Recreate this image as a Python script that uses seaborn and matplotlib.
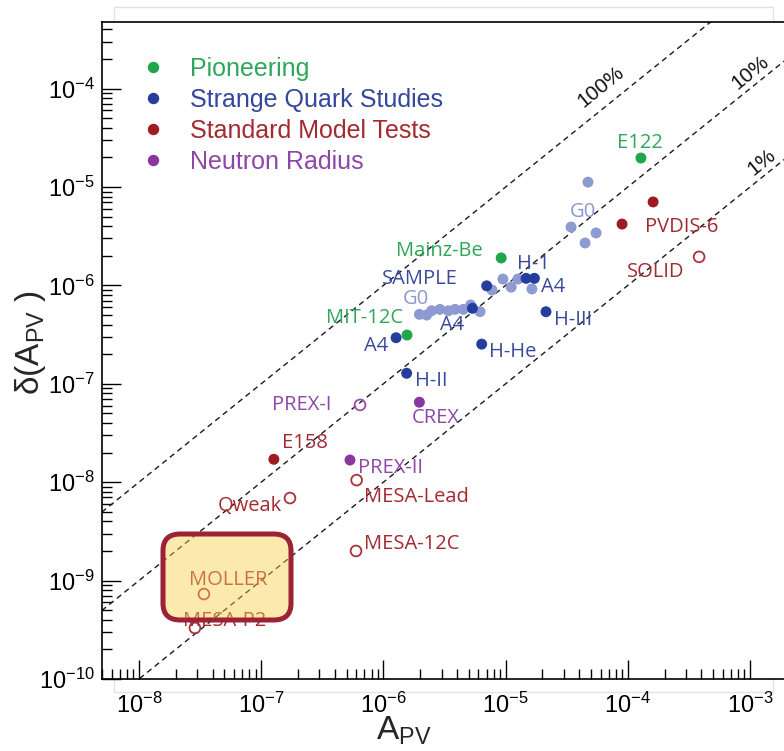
import numpy as np
import pandas as pd
import matplotlib
matplotlib.use("Agg")
import matplotlib.pyplot as plt
import seaborn as sns
from matplotlib.patches import FancyBboxPatch, Rectangle
from matplotlib.lines import Line2D
from matplotlib.colors import to_rgba
from matplotlib.ticker import LogLocator, NullFormatter, FixedLocator, LogFormatterSciNotation

# ---------------- data ----------------
categories = ["Pioneering", "Strange Quark Studies", "Standard Model Tests", "Neutron Radius"]

pioneer_A = [1.28e-4, 9.2e-6, 1.56e-6]
pioneer_dA = [1.97e-5, 1.9e-6, 3.13e-7]

strange_A = [7.0e-6, 1.47e-5, 1.72e-5, 2.14e-5, 6.37e-6, 1.27e-6, 1.55e-6, 5.35e-6]
strange_dA = [9.9e-7, 1.18e-6, 1.18e-6, 5.4e-7, 2.53e-7, 2.94e-7, 1.28e-7, 5.85e-7]

pale_A = [4.72e-5, 3.43e-5, 5.5e-5, 4.47e-5, 9.5e-6, 1.11e-5, 1.26e-5, 1.64e-5, 7.74e-6,
          1.97e-6, 2.26e-6, 2.48e-6, 2.9e-6, 3.4e-6, 3.86e-6, 4.51e-6, 5.18e-6, 6.18e-6]
pale_dA = [1.12e-5, 3.92e-6, 3.41e-6, 2.7e-6, 1.16e-6, 9.6e-7, 1.16e-6, 9.2e-7, 8.97e-7,
           5.08e-7, 5.0e-7, 5.53e-7, 5.71e-7, 5.53e-7, 5.71e-7, 5.71e-7, 6.32e-7, 5.41e-7]

sm_A = [1.27e-7, 8.97e-5, 1.61e-4]
sm_dA = [1.71e-8, 4.2e-6, 7.05e-6]

sm_open_A = [3.83e-4, 1.72e-7, 6.04e-7, 5.97e-7, 3.4e-8, 2.87e-8]
sm_open_dA = [1.95e-6, 6.9e-9, 1.05e-8, 2.0e-9, 7.3e-10, 3.3e-10]

nr_A = [1.97e-6, 5.33e-7]
nr_dA = [6.5e-8, 1.68e-8]

nr_open_A = [6.44e-7]
nr_open_dA = [6.1e-8]

x_ticks = [1e-8, 1e-7, 1e-6, 1e-5, 1e-4, 1e-3]
y_ticks = [1e-10, 1e-9, 1e-8, 1e-7, 1e-6, 1e-5, 1e-4]

# precision lines (fraction of A_PV)
pct_fracs = [1.0, 0.1, 0.01]
pct_texts = ["100%", "10%", "1%"]
pct_label_A = [6.04e-5, 1.0e-3, 1.25e-3]

# labels: (text, group, index in group, dx px, dy px)
labels = [
    ("E122", "pioneer", 0, -1, 15),
    ("Mainz-Be", "pioneer", 1, -62, 7),
    ("MIT-12C", "pioneer", 2, -42, 17),
    ("SAMPLE", "strange", 0, -67, 7),
    ("H-1", "strange", 1, 7, 14),
    ("H-III", "strange", 3, 27, -8),
    ("H-He", "strange", 4, 31, -8),
    ("A4", "strange", 5, -20, -8),
    ("H-II", "strange", 6, 25, -8),
    ("A4", "strange", 7, -20, -17),
    ("A4", "pale_label", 7, 21, 2),
    ("G0", "pale", 9, -4, 15),
    ("G0", "pale", 1, 12, 15),
    ("E158", "sm", 0, 31, 16),
    ("PVDIS-6", "sm", 1, 60, -3),
    ("SOLID", "sm_open", 0, -43, -15),
    ("Qweak", "sm_open", 1, -40, -8),
    ("MESA-Lead", "sm_open", 2, 60, -17),
    ("MESA-12C", "sm_open", 3, 56, 7),
    ("MOLLER", "sm_open", 4, 24, 14),
    ("MESA-P2", "sm_open", 5, 30, 7),
    ("CREX", "nr", 0, 16, -16),
    ("PREX-II", "nr", 1, 40, -8),
    ("PREX-I", "nr_open", 0, -58, 0),
]

# ---------------- styles ----------------
point_colors = {
    "pale": "#8e9ad2",
    "pioneer": "#1ea64b",
    "strange": "#253d9c",
    "sm": "#9d1b22",
    "nr": "#8a35a0",
    "sm_open": "#a8343a",
    "nr_open": "#9a4cb0",
}
label_colors = {
    "pale": "#8d97cb",
    "pale_label": "#3a4a9c",
    "pioneer": "#2ea75a",
    "strange": "#3a4a9c",
    "sm": "#a42a30",
    "sm_open": "#a42a30",
    "nr": "#8d47a8",
    "nr_open": "#8d47a8",
}
legend_colors = ["#1ea64b", "#253d9c", "#9d1b22", "#8a35a0"]
legend_text_colors = ["#2ea75a", "#34479e", "#a42a30", "#8d47a8"]

sns.set_theme(style="white")
plt.rcParams["font.family"] = ["Liberation Sans", "DejaVu Sans"]
plt.rcParams["mathtext.fontset"] = "custom"
plt.rcParams["mathtext.rm"] = "Liberation Sans"
plt.rcParams["mathtext.it"] = "Liberation Sans:italic"
plt.rcParams["mathtext.bf"] = "Liberation Sans:bold"

groups = {
    "pale": (pale_A, pale_dA, False),
    "pioneer": (pioneer_A, pioneer_dA, False),
    "strange": (strange_A, strange_dA, False),
    "sm": (sm_A, sm_dA, False),
    "nr": (nr_A, nr_dA, False),
    "sm_open": (sm_open_A, sm_open_dA, True),
    "nr_open": (nr_open_A, nr_open_dA, True),
}
rows = []
for g, (a, d, hollow) in groups.items():
    for x, y in zip(a, d):
        rows.append({"A": x, "dA": y, "group": g, "hollow": hollow})
df = pd.DataFrame(rows)

W, H = 784, 751
fig = plt.figure(figsize=(W / 100, H / 100), dpi=100)
fig.patch.set_facecolor("white")

# faint frame behind the plot
fig.add_artist(Rectangle((114 / W, 1 - 692 / H), (773 - 114) / W, (692 - 7) / H,
                         transform=fig.transFigure, fill=False, edgecolor="#e3e3e3",
                         lw=1.0, zorder=0))

ax = fig.add_axes([101.7 / W, (H - 679) / H, (790 - 101.7) / W, (679 - 21.7) / H])
ax.set_facecolor("white")
ax.set_xscale("log")
ax.set_yscale("log")
xmin, xmax = 10 ** -8.305, 10 ** -2.673
ymin, ymax = 1e-10, 10 ** -3.32

# precision lines
xx = np.geomspace(xmin, xmax, 50)
for f in pct_fracs:
    ax.plot(xx, f * xx, color="#1a1a1a", lw=1.0, ls=(0, (4, 3)), zorder=1)
for f, t, xa, off in zip(pct_fracs, pct_texts, pct_label_A, [23, 16, 15]):
    ax.annotate(t, (xa, f * xa), xytext=(0, off), textcoords="offset pixels",
                ha="center", va="center", rotation=39, rotation_mode="anchor",
                fontsize=15, color="#111111", zorder=4)

# filled points
filled = df[~df["hollow"]]
sns.scatterplot(data=filled, x="A", y="dA", hue="group", palette=point_colors,
                hue_order=["pale", "pioneer", "strange", "sm", "nr"],
                s=62, linewidth=0, legend=False, ax=ax, zorder=3)
# hollow points
hollow = df[df["hollow"]]
sns.scatterplot(data=hollow, x="A", y="dA", hue="group", palette=point_colors,
                hue_order=["sm_open", "nr_open"], s=60, linewidth=1.3,
                legend=False, ax=ax, zorder=3)
coll = ax.collections[-1]
coll.set_edgecolors(coll.get_facecolors())
coll.set_facecolors("none")

# point labels
for text, grp, idx, dx, dy in labels:
    src = "pale" if grp == "pale_label" else grp
    a, d, _ = groups[src]
    ax.annotate(text, (a[idx], d[idx]), xytext=(dx, dy), textcoords="offset pixels",
                ha="center", va="center", color=label_colors[grp], fontsize=14.5,
                family=["Open Sans", "DejaVu Sans"], zorder=4)

# MOLLER highlight box
fig.add_artist(FancyBboxPatch((163 / W, 1 - 620 / H), 128 / W, 86 / H,
                              boxstyle="round,pad=0,rounding_size=0.022",
                              transform=fig.transFigure,
                              facecolor=to_rgba("#f7cf4d", 0.45),
                              edgecolor="#9b2335", lw=3.6, zorder=5))

# ticks
ax.xaxis.set_major_locator(FixedLocator(x_ticks))
ax.xaxis.set_major_formatter(LogFormatterSciNotation())
ax.xaxis.set_minor_locator(LogLocator(base=10, subs=np.arange(2, 10), numticks=20))
ax.xaxis.set_minor_formatter(NullFormatter())
ax.yaxis.set_major_locator(FixedLocator(y_ticks))
ax.yaxis.set_major_formatter(LogFormatterSciNotation())
ax.yaxis.set_minor_locator(LogLocator(base=10, subs=np.arange(2, 10), numticks=20))
ax.yaxis.set_minor_formatter(NullFormatter())
ax.set_xlim(xmin, xmax)
ax.set_ylim(ymin, ymax)
ax.tick_params(which="both", direction="in", bottom=True, left=True, top=False, right=False,
               color="black", width=1.0, labelcolor="black")
ax.tick_params(which="major", length=14, labelsize=17)
ax.tick_params(which="minor", length=7)
ax.tick_params(axis="x", which="major", pad=10)
ax.tick_params(axis="y", which="major", pad=5)

for s in ["left", "bottom", "top"]:
    ax.spines[s].set_color("black")
    ax.spines[s].set_linewidth(1.2)
ax.spines["right"].set_visible(False)
ax.grid(False)
ax.set_xlabel("")
ax.set_ylabel("")

# axis titles
fig.text(404 / W, 1 - 731 / H, r"A$_{\mathrm{PV}}$", ha="center", va="center", fontsize=24)
fig.text(30 / W, 1 - 343 / H, r"δ(A$_{\mathrm{PV}}$ )", ha="center", va="center",
         rotation=90, fontsize=24)

# legend
handles = [Line2D([], [], marker="o", ls="", color=c, markersize=7.2) for c in legend_colors]
ax.legend(handles, categories, loc="upper left",
          bbox_to_anchor=(140.5 / W, 1 - 57 / H), bbox_transform=fig.transFigure,
          frameon=False, prop={"family": "Liberation Sans", "size": 18},
          labelcolor=legend_text_colors, handlelength=1.0, handletextpad=0.98,
          labelspacing=0.28, borderpad=0, borderaxespad=0)

fig.savefig("out.png", dpi=100)
